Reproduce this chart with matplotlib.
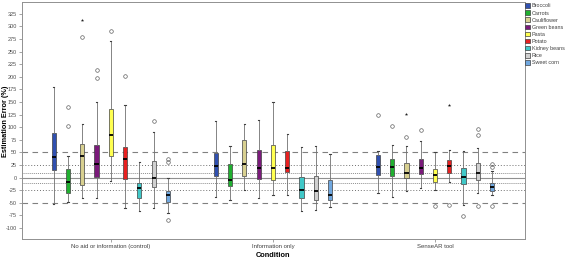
import numpy as np
import matplotlib.pyplot as plt

plt.rcParams['font.family'] = ['Liberation Sans', 'DejaVu Sans']

conditions = ['No aid or information (control)', 'Information only', 'SenseAR tool']
foods = ['Broccoli', 'Carrots', 'Cauliflower', 'Green beans', 'Pasta',
         'Potato', 'Kidney beans', 'Rice', 'Sweet corn']
colors = ['#3050b0', '#20b030', '#d8d090', '#7b1a7b', '#ffff50',
          '#e82020', '#40c8c8', '#d0d0d0', '#70a8e0']

# box stats, rows = condition, cols = food
whis_hi = [[179, 42, 106, 149, 271, 143, 30, 91, -1],
           [112, 63, 107, 115, 149, 87, 61, 63, 46],
           [53, 65, 63, 73, 50, 55, 53, 58, 14]]
q3 = [[89, 17, 67, 65, 136, 61, -10, 32, -26],
      [48, 27, 74, 55, 64, 52, 2, 4, -5],
      [45, 36, 28, 36, 17, 34, 18, 28, -10]]
med = [[40, -9, 42, 26, 85, 37, -20, -1, -34],
       [22, -4, 26, 18, 18, 18, -24, -26, -35],
       [20, 21, 10, 18, 5, 22, 2, 10, -18]]
q1 = [[15, -30, -15, 1, 43, -3, -40, -19, -48],
      [4, -16, 4, -3, -5, 11, -40, -44, -44],
      [5, 4, -1, 7, -9, 10, -12, -4, -26]]
whis_lo = [[-52, -48, -40, -40, -6, -61, -66, -61, -70],
           [-39, -44, -25, -41, -35, -34, -66, -64, -58],
           [-30, -38, -27, -21, -24, -8, -55, -31, -34]]
outliers = [[[], [139, 102], [279], [213, 198], [290], [201], [], [113], [36, 30, -85]],
            [[], [], [], [], [], [], [], [], []],
            [[124], [103], [81], [94], [-56], [-54], [-77], [96, 85, -56], [26, 20, -56]]]
extremes = [[[], [], [313], [], [], [], [], [], []],
            [[], [], [], [], [], [], [], [], []],
            [[], [], [126], [], [], [143], [], [], []]]

yticks = list(range(-100, 326, 25))

fig = plt.figure(figsize=(5.67, 2.61), dpi=100)
ax = fig.add_axes([0.038, 0.084, 0.888, 0.908])

# reference lines
ax.axhline(0, color='#909090', lw=0.8, zorder=0)
for v in (10, -10):
    ax.axhline(v, color='#909090', lw=0.7, ls=(0, (1, 1)), zorder=0)
for v in (25, -25):
    ax.axhline(v, color='#707070', lw=0.7, ls=(0, (1, 2)), zorder=0)
for v in (50, -50):
    ax.axhline(v, color='#808080', lw=0.8, ls=(0, (5, 4)), zorder=0)

step = 0.088
width = 0.026
for c in range(len(conditions)):
    stats = []
    pos = []
    for f in range(len(foods)):
        stats.append(dict(med=med[c][f], q1=q1[c][f], q3=q3[c][f],
                          whislo=whis_lo[c][f], whishi=whis_hi[c][f],
                          fliers=outliers[c][f]))
        pos.append(c + (f - 4) * step)
    bp = ax.bxp(stats, positions=pos, widths=width, patch_artist=True,
                manage_ticks=False,
                boxprops=dict(edgecolor='#404040', linewidth=0.5),
                medianprops=dict(color='black', linewidth=1.3),
                whiskerprops=dict(color='#707070', linewidth=0.6),
                capprops=dict(color='#404040', linewidth=0.8),
                capwidths=0.008,
                flierprops=dict(marker='o', markersize=2.6, markerfacecolor='none',
                                markeredgecolor='#606060', markeredgewidth=0.5))
    for patch, col in zip(bp['boxes'], colors):
        patch.set_facecolor(col)
    for f in range(len(foods)):
        for v in extremes[c][f]:
            ax.plot(c + (f - 4) * step, v, marker='*', ms=2.5, color='#202020', mew=0)

ax.set_xlim(-0.551, 2.556)
ax.set_ylim(-122, 348)
ax.set_xticks(range(len(conditions)))
ax.set_xticklabels(conditions, fontsize=4.3, color='#404040')
ax.set_yticks(yticks)
ax.set_yticklabels([str(t) for t in yticks], fontsize=4, color='#505050')
ax.tick_params(axis='both', length=2, width=0.5, color='#808080', pad=1.2)
for s in ax.spines.values():
    s.set_color('#909090')
    s.set_linewidth(0.7)
ax.set_xlabel('Condition', fontsize=5.3, fontweight='bold', labelpad=2.5)
fig.text(0.009, 0.535, 'Estimation Error (%)', rotation=90, ha='center', va='center',
         fontsize=5.3, fontweight='bold')

handles = [plt.Rectangle((0, 0), 1, 1, facecolor=col, edgecolor='#404040', lw=0.5)
           for col in colors]
fig.legend(handles, foods, loc='upper left', bbox_to_anchor=(0.921, 1.0),
           frameon=False, fontsize=3.9, handlelength=0.85, handleheight=0.95,
           handletextpad=0.3, labelspacing=0.35, borderaxespad=0.2,
           labelcolor='#404040')

fig.savefig('out.png', dpi=100)
